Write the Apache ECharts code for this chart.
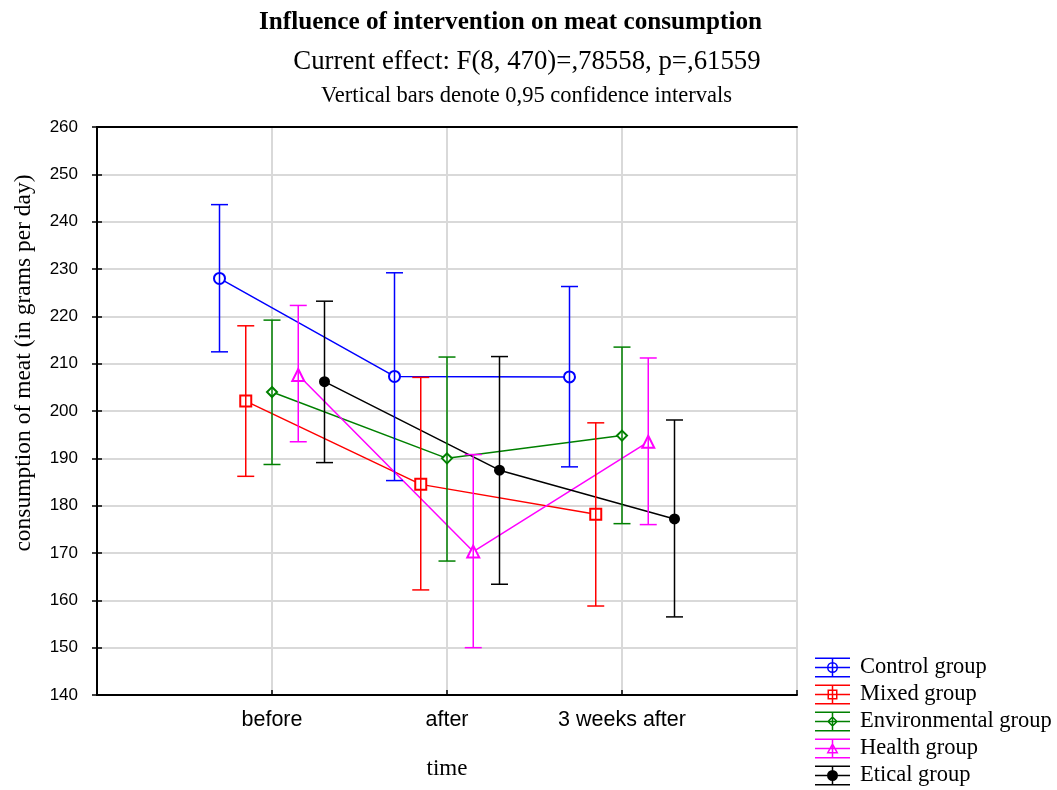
<!DOCTYPE html>
<html>
<head>
<meta charset="utf-8">
<script src="https://cdn.jsdelivr.net/npm/echarts@6/dist/echarts.min.js"></script>
<style>
html,body{margin:0;padding:0;background:#fff;}
#chart{width:1057px;height:790px;}
</style>
</head>
<body>
<div id="chart"></div>
<script>
// ---- data ----
const categories = ['before', 'after', '3 weeks after'];
const groups = ['Control group', 'Mixed group', 'Environmental group', 'Health group', 'Etical group'];
const yTicks = [140, 150, 160, 170, 180, 190, 200, 210, 220, 230, 240, 250, 260];

const controlMean = [228.0, 207.3, 207.2];
const controlLow  = [212.5, 185.3, 188.2];
const controlHigh = [243.6, 229.2, 226.3];

const mixedMean = [202.1, 184.5, 178.2];
const mixedLow  = [186.2, 162.2, 158.8];
const mixedHigh = [218.0, 207.1, 197.5];

const envMean = [204.0, 190.0, 194.8];
const envLow  = [188.7, 168.3, 176.2];
const envHigh = [219.2, 211.4, 213.5];

const healthMean = [207.6, 170.3, 193.5];
const healthLow  = [193.5, 150.0, 176.0];
const healthHigh = [222.3, 190.8, 211.2];

const eticalMean = [206.2, 187.5, 177.2];
const eticalLow  = [189.1, 163.4, 156.5];
const eticalHigh = [223.2, 211.5, 198.1];

const titleText = 'Influence of intervention on meat consumption';
const subText = 'Current effect: F(8, 470)=,78558, p=,61559';
const noteText = 'Vertical bars denote 0,95 confidence intervals';
const xName = 'time';
const yName = 'consumption of meat (in grams per day)';

// ---- styling / building ----
const means = [controlMean, mixedMean, envMean, healthMean, eticalMean];
const lows = [controlLow, mixedLow, envLow, healthLow, eticalLow];
const highs = [controlHigh, mixedHigh, envHigh, healthHigh, eticalHigh];
const colors = ['#0000ff', '#ff0000', '#008000', '#ff00ff', '#000000'];
const symbols = ['emptyCircle', 'emptyRect', 'emptyDiamond', 'emptyTriangle', 'circle'];
const symbolSizes = [11, 11, 10, 12, 11];
const dodge = 0.15;

const bars = 'M0 0H35V1.5H0Z M0 18.5H35V20H0Z M0 9.25H35V10.75H0Z M16.75 0H18.25V20H16.75Z';
const icons = [
  'path://' + bars + ' M23 10A5.5 5.5 0 1 1 12 10A5.5 5.5 0 1 1 23 10Z M21.5 10A4 4 0 1 0 13.5 10A4 4 0 1 0 21.5 10Z',
  'path://' + bars + ' M12.5 5H22.5V15H12.5Z M14 6.5V13.5H21V6.5Z',
  'path://' + bars + ' M17.5 4.5L23 10L17.5 15.5L12 10Z M17.5 6.6L14.1 10L17.5 13.4L20.9 10Z',
  'path://' + bars + ' M17.5 4L23.5 15L11.5 15Z M17.5 7.2L14 13.5L21 13.5Z',
  'path://' + bars + ' M23 10A5.5 5.5 0 1 1 12 10A5.5 5.5 0 1 1 23 10Z'
];

const series = [];
groups.forEach((g, i) => {
  const off = (i - 2) * dodge;
  series.push({
    name: g, type: 'line', z: 2,
    data: means[i].map((v, k) => [k + 1 + off, v]),
    symbol: symbols[i], symbolSize: symbolSizes[i],
    lineStyle: { color: colors[i], width: 1.5 },
    itemStyle: { color: colors[i], borderWidth: 1.5 },
    emphasis: { disabled: true },
    animation: false
  });
});
groups.forEach((g, i) => {
  const off = (i - 2) * dodge;
  const c = colors[i];
  series.push({
    name: g, type: 'custom', z: 3,
    data: means[i].map((v, k) => [k + 1 + off, lows[i][k], highs[i][k]]),
    encode: { x: 0, y: [1, 2] },
    renderItem: function (params, api) {
      const x = api.value(0);
      const pLo = api.coord([x, api.value(1)]);
      const pHi = api.coord([x, api.value(2)]);
      const hw = 8.5;
      const st = { stroke: c, lineWidth: 1.5, fill: null };
      return { type: 'group', children: [
        { type: 'line', shape: { x1: pLo[0], y1: pLo[1], x2: pHi[0], y2: pHi[1] }, style: st },
        { type: 'line', shape: { x1: pLo[0] - hw, y1: pLo[1], x2: pLo[0] + hw, y2: pLo[1] }, style: st },
        { type: 'line', shape: { x1: pHi[0] - hw, y1: pHi[1], x2: pHi[0] + hw, y2: pHi[1] }, style: st }
      ]};
    },
    animation: false
  });
});

const serif = '"Liberation Serif", "Times New Roman", serif';
const sans = '"Liberation Sans", Arial, sans-serif';
const yMin = yTicks[0], yMax = yTicks[yTicks.length - 1], yStep = yTicks[1] - yTicks[0];

const option = {
  backgroundColor: '#fff',
  animation: false,
  title: [
    { text: titleText, left: 510.5, top: 22.5, padding: 0, textAlign: 'center', textVerticalAlign: 'middle',
      textStyle: { fontFamily: serif, fontSize: 25.2, fontWeight: 'bold', color: '#000' } },
    { text: subText, left: 527, top: 61.5, padding: 0, textAlign: 'center', textVerticalAlign: 'middle',
      textStyle: { fontFamily: serif, fontSize: 26.8, fontWeight: 'normal', color: '#000' } },
    { text: noteText, left: 526.5, top: 96, padding: 0, textAlign: 'center', textVerticalAlign: 'middle',
      textStyle: { fontFamily: serif, fontSize: 22.5, fontWeight: 'normal', color: '#000' } }
  ],
  legend: {
    orient: 'vertical', left: 815, top: 656, padding: 0,
    itemWidth: 35, itemHeight: 20, itemGap: 4,
    data: groups.map((g, i) => ({ name: g, icon: icons[i] })),
    itemStyle: { borderWidth: 0 },
    textStyle: { fontFamily: serif, fontSize: 22.5, color: '#000', padding: [0, 0, 0, 5] },
    selectedMode: false
  },
  grid: { left: 97, right: 260, top: 127, bottom: 95, containLabel: false },
  xAxis: [
    {
      type: 'value', min: 0, max: categories.length + 1, interval: 1, position: 'bottom',
      name: xName, nameLocation: 'middle', nameGap: 62,
      nameTextStyle: { fontFamily: serif, fontSize: 23, color: '#000' },
      axisLine: { lineStyle: { color: '#000', width: 2 } },
      axisTick: { inside: true, length: 5, lineStyle: { color: '#000', width: 1.5 } },
      axisLabel: { fontFamily: sans, fontSize: 21.5, color: '#000', margin: 14,
        formatter: v => (categories[v - 1] !== undefined ? categories[v - 1] : '') },
      splitLine: { show: true, lineStyle: { color: '#d9d9d9', width: 2 } }
    },
    {
      type: 'value', min: 0, max: categories.length + 1, position: 'top',
      axisLine: { lineStyle: { color: '#000', width: 2 } },
      axisTick: { show: false }, axisLabel: { show: false }, splitLine: { show: false }
    }
  ],
  yAxis: [
    {
      type: 'value', min: yMin, max: yMax, interval: yStep, position: 'left',
      name: yName, nameLocation: 'middle', nameGap: 61,
      nameTextStyle: { fontFamily: serif, fontSize: 23.5, color: '#000', padding: [0, 0, 0, 96] },
      axisLine: { show: true, lineStyle: { color: '#000', width: 2 } },
      axisTick: { show: true, inside: true, length: 5, lineStyle: { color: '#000', width: 1.5 } },
      axisLabel: { fontFamily: sans, fontSize: 17, color: '#000', margin: 19 },
      splitLine: { show: true, lineStyle: { color: '#d9d9d9', width: 2 } }
    },
    {
      type: 'value', min: yMin, max: yMax, interval: yStep, position: 'right',
      axisLine: { show: true, lineStyle: { color: '#000', width: 2 } },
      axisTick: { show: true, inside: true, length: 5, lineStyle: { color: '#000', width: 1.5 } },
      axisLabel: { show: false }, splitLine: { show: false }
    }
  ],
  series: series
};

const chart = echarts.init(document.getElementById('chart'), null, { renderer: 'canvas' });
chart.setOption(option);
</script>
</body>
</html>
